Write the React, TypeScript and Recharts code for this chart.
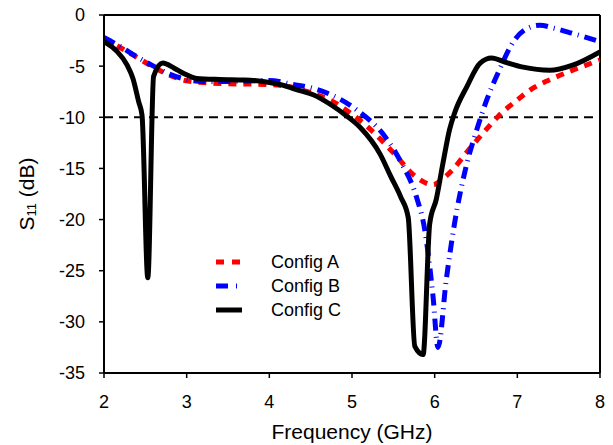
import React from "react";
import { LineChart, Line, XAxis, YAxis, ReferenceLine } from "recharts";

type Pt = { f: number; v: number };
const mk = (rows: number[][]): Pt[] => rows.map(([f, v]) => ({ f, v }));

const xTicks = [2, 3, 4, 5, 6, 7, 8];
const yTicks = [0, -5, -10, -15, -20, -25, -30, -35];

const configA = mk([
  [2.0, -2.3], [2.2, -3.2], [2.35, -3.9], [2.6, -5.1], [2.8, -5.9], [2.98, -6.4],
  [3.2, -6.6], [3.44, -6.7], [4.0, -6.8], [4.3, -7.1], [4.5, -7.6], [4.73, -8.3],
  [5.0, -9.7], [5.17, -10.8], [5.4, -12.6], [5.56, -14.0], [5.7, -15.3], [5.82, -16.1],
  [5.98, -16.6], [6.1, -16.0], [6.22, -15.1], [6.39, -13.4], [6.59, -11.5], [6.77, -9.9],
  [7.0, -8.3], [7.2, -7.1], [7.43, -6.2], [7.67, -5.4], [8.0, -4.4],
]);

const configB = mk([
  [2.0, -2.2], [2.2, -3.1], [2.4, -4.1], [2.6, -5.0], [2.8, -5.8], [3.0, -6.3],
  [3.2, -6.5], [3.5, -6.5], [4.0, -6.4], [4.29, -6.8], [4.5, -7.1], [4.69, -7.6],
  [5.06, -9.3], [5.4, -11.9], [5.6, -14.5], [5.78, -17.8], [5.88, -21.0], [5.98, -27.5],
  [6.04, -32.5], [6.14, -25.9], [6.24, -20.4], [6.39, -14.5], [6.51, -11.2], [6.63, -8.3],
  [6.77, -5.6], [6.97, -2.4], [7.1, -1.4], [7.27, -1.0], [7.45, -1.3], [7.67, -1.8], [8.0, -2.6],
]);

const configC = mk([
  [2.0, -2.6], [2.15, -3.5], [2.28, -4.9], [2.35, -6.2], [2.42, -8.5], [2.46, -9.8],
  [2.53, -25.7], [2.6, -6.0], [2.71, -4.7], [2.85, -5.2], [2.96, -5.7], [3.12, -6.2],
  [3.4, -6.3], [3.7, -6.35], [4.0, -6.6], [4.13, -6.8], [4.37, -7.4], [4.53, -7.8],
  [4.75, -8.8], [4.94, -9.9], [5.1, -11.0], [5.34, -13.6], [5.47, -15.8], [5.59, -17.8],
  [5.68, -19.8], [5.76, -32.4], [5.86, -33.2], [5.94, -20.4], [6.02, -18.0], [6.1, -14.5],
  [6.18, -11.2], [6.24, -9.6], [6.39, -7.0], [6.55, -4.7], [6.69, -4.2], [6.85, -4.6],
  [7.07, -5.1], [7.39, -5.4], [7.67, -4.9], [8.0, -3.6],
]);

const seriesNames = ["Config A", "Config B", "Config C"];
const FONT = "'Liberation Sans', Arial, sans-serif";

const legendItems = [
  { name: seriesNames[0], color: "#ff0000", dash: "8 8", width: 5 },
  { name: seriesNames[1], color: "#0000ff", dash: "12 8 1 8", width: 5 },
  { name: seriesNames[2], color: "#000000", dash: undefined as string | undefined, width: 5 },
];

const LegendBox = () => (
  <div style={{ position: "absolute", left: 214, top: 250, fontFamily: FONT, fontSize: 18, color: "#000", lineHeight: "24px" }}>
    {legendItems.map((it) => (
      <div key={it.name} style={{ display: "flex", alignItems: "center", height: 24 }}>
        <svg width={30} height={10} style={{ marginRight: 27 }}>
          <line x1={2} y1={5} x2={28} y2={5} stroke={it.color} strokeWidth={it.width} strokeDasharray={it.dash} />
        </svg>
        <span>{it.name}</span>
      </div>
    ))}
  </div>
);

const YLabel = (props: any) => {
  const vb = props.viewBox || {};
  const cy = (vb.y ?? 15) + (vb.height ?? 358) / 2;
  const cx = 26;
  return (
    <text
      x={cx}
      y={cy}
      transform={`rotate(-90, ${cx}, ${cy})`}
      textAnchor="middle"
      dominantBaseline="central"
      fontFamily={FONT}
      fontSize={21}
      fill="#000"
    >
      S<tspan fontSize={13} dy={5}>11</tspan>
      <tspan dy={-5}> (dB)</tspan>
    </text>
  );
};

const XLabel = (props: any) => {
  const vb = props.viewBox || {};
  const cx = (vb.x ?? 104) + (vb.width ?? 496) / 2;
  const by = (vb.y ?? 373) + 66;
  return (
    <text x={cx} y={by} textAnchor="middle" fontFamily={FONT} fontSize={21} fill="#000">
      Frequency (GHz)
    </text>
  );
};

export default function App() {
  return (
    <div style={{ position: "absolute", left: 0, top: 0, width: 613, height: 445, background: "#fff" }}>
      <LineChart width={613} height={445} margin={{ top: 15, right: 13, bottom: 0, left: 0 }}>
        <XAxis
          type="number"
          dataKey="f"
          domain={[2, 8]}
          ticks={xTicks}
          allowDataOverflow
          height={72}
          tick={{ fill: "#000", fontSize: 18, fontFamily: FONT }}
          tickSize={5}
          tickMargin={17}
          axisLine={{ stroke: "#000", strokeWidth: 2 }}
          tickLine={{ stroke: "#000", strokeWidth: 1.5 }}
          label={{ content: (p: any) => <XLabel {...p} /> }}
        />
        <YAxis
          type="number"
          domain={[-35, 0]}
          ticks={yTicks}
          allowDataOverflow
          width={104}
          tick={{ fill: "#000", fontSize: 18, fontFamily: FONT }}
          tickSize={5}
          tickMargin={14}
          axisLine={{ stroke: "#000", strokeWidth: 2 }}
          tickLine={{ stroke: "#000", strokeWidth: 1.5 }}
          label={{ content: (p: any) => <YLabel {...p} /> }}
        />
        <ReferenceLine y={0} stroke="#000" strokeWidth={2} />
        <ReferenceLine x={8} stroke="#000" strokeWidth={2} />
        <ReferenceLine y={-10} stroke="#000" strokeWidth={2} strokeDasharray="9 6" />
        <Line data={configA} dataKey="v" name={seriesNames[0]} type="monotone" stroke="#ff0000" strokeWidth={5} strokeDasharray="8 7" dot={false} isAnimationActive={false} />
        <Line data={configB} dataKey="v" name={seriesNames[1]} type="monotone" stroke="#0000ff" strokeWidth={5} strokeDasharray="12 6 1 6" dot={false} isAnimationActive={false} />
        <Line data={configC} dataKey="v" name={seriesNames[2]} type="monotone" stroke="#000000" strokeWidth={5} dot={false} isAnimationActive={false} />
      </LineChart>
      <LegendBox />
    </div>
  );
}
